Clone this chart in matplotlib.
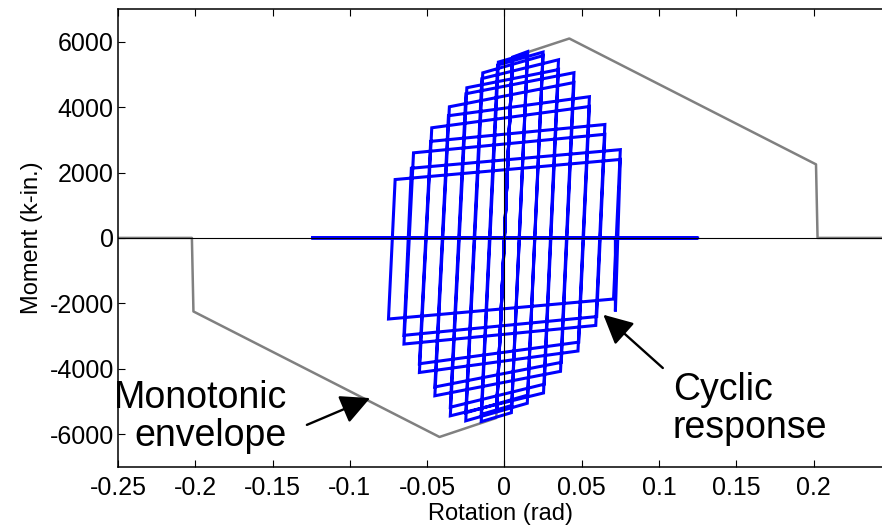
import numpy as np
import matplotlib
matplotlib.use("Agg")
import matplotlib.pyplot as plt

plt.rcParams['font.family'] = ['Liberation Sans', 'DejaVu Sans']

# monotonic backbone (rotation in rad, moment in k-in.)
env_rot = [-0.25, -0.2022, -0.2012, -0.042, -0.0053, 0.0, 0.0053, 0.042, 0.2016, 0.2026, 0.25]
env_mom = [0, 0, -2250, -6090, -5510, 0, 5530, 6100, 2250, 0, 0]

# cyclic protocol: two cycles per amplitude, first one elastic
amp = [0.005, 0.015, 0.025, 0.035, 0.045, 0.055, 0.065, 0.075]
pos_peak1 = [5250, 5700, 5685, 5450, 5054, 4320, 3470, 2700]
pos_peak2 = [5250, 5637, 5577, 5150, 4754, 4020, 3170, 2400]
neg_peak1 = [-5250, -5620, -5596, -5443, -4830, -4117, -3247, -2481]
neg_peak2 = [-5250, -5400, -5350, -5180, -4560, -3850, -2980, np.nan]

# unloading from positive peak down to the negative strength line
unl1_rot = [-0.005, 0.0045, 0.0148, 0.0253, 0.0363, 0.0476, 0.0591, 0.0706]
unl1_mom = [-5250, -5347, -5059, -4744, -4082, -3460, -2677, -1870]
unl2_rot = [-0.005, 0.0048, 0.0151, 0.0258, 0.0368, 0.0481, 0.0597, 0.0718]
unl2_mom = [-5250, -5124, -4809, -4475, -3807, -3189, -2407, -2250]

# reloading from negative peak up to the positive strength line
rel1_rot = [0.005, -0.0039, -0.0140, -0.0243, -0.0356, -0.0470, -0.0588, -0.0707]
rel1_mom = [5250, 5379, 5050, 4594, 4012, 3369, 2603, 1786]
rel2_rot = [0.0053, -0.0044, -0.0146, -0.0249, -0.0362, -0.0477, -0.0602, np.nan]
rel2_mom = [5530, 5288, 4873, 4411, 3738, 2954, 2132, np.nan]

# after fracture the hinge carries no moment
resid_rot = [0.125, -0.125, 0.125]

# assemble the load path
rot = [0.0]
mom = [0.0]
for k in range(len(amp)):
    rot += [amp[k], unl1_rot[k], -amp[k], rel1_rot[k], amp[k], unl2_rot[k]]
    mom += [pos_peak1[k], unl1_mom[k], neg_peak1[k], rel1_mom[k], pos_peak2[k], unl2_mom[k]]
    if k < len(amp) - 1:
        rot += [-amp[k], rel2_rot[k]]
        mom += [neg_peak2[k], rel2_mom[k]]
rot += [unl2_rot[-1]] + resid_rot
mom += [0] * (len(resid_rot) + 1)

fig = plt.figure(figsize=(8.82, 5.26), dpi=100)
ax = fig.add_axes([0.1338, 0.1127, 0.8662, 0.870])

ax.plot(env_rot, env_mom, color='#808080', lw=1.8, zorder=2)
ax.plot(rot, mom, color='#0000ff', lw=2.2, zorder=3, solid_joinstyle='miter')
ax.axhline(0, color='k', lw=0.8, zorder=4)
ax.axvline(0, color='k', lw=0.8, zorder=4)

ax.set_xlim(-0.25, 0.2443)
ax.set_ylim(-7000, 7000)
xt = [-0.25, -0.2, -0.15, -0.1, -0.05, 0, 0.05, 0.1, 0.15, 0.2]
ax.set_xticks(xt)
ax.set_xticklabels(['-0.25', '-0.2', '-0.15', '-0.1', '-0.05', '0', '0.05', '0.1', '0.15', '0.2'])
yt = [-6000, -4000, -2000, 0, 2000, 4000, 6000]
ax.set_yticks(yt)
ax.set_yticklabels([str(v) for v in yt])
ax.tick_params(direction='in', length=5, width=0.8, labelsize=18, top=True, right=False)
ax.tick_params(axis='x', pad=7)
ax.tick_params(axis='y', pad=3)
ax.spines['right'].set_visible(False)
for s in ['left', 'bottom', 'top']:
    ax.spines[s].set_linewidth(1.1)

ax.set_xlabel('Rotation (rad)', fontsize=17, labelpad=2)
ax.set_ylabel('Moment (k-in.)', fontsize=17, labelpad=5)

arrow = dict(arrowstyle='-|>', mutation_scale=45, lw=1.7, color='k',
             shrinkA=0, shrinkB=0)
ax.annotate('', xy=(-0.0869, -4900), xytext=(-0.1278, -5720), arrowprops=arrow)
ax.annotate('', xy=(0.064, -2350), xytext=(0.1025, -3980), arrowprops=arrow)
ax.text(-0.1406, -5480, 'Monotonic\nenvelope', fontsize=27, ha='right',
        va='center', multialignment='right', linespacing=1.05)
ax.text(0.109, -5240, 'Cyclic\nresponse', fontsize=27, ha='left',
        va='center', multialignment='left', linespacing=1.05)

fig.savefig('out.png', dpi=100)
